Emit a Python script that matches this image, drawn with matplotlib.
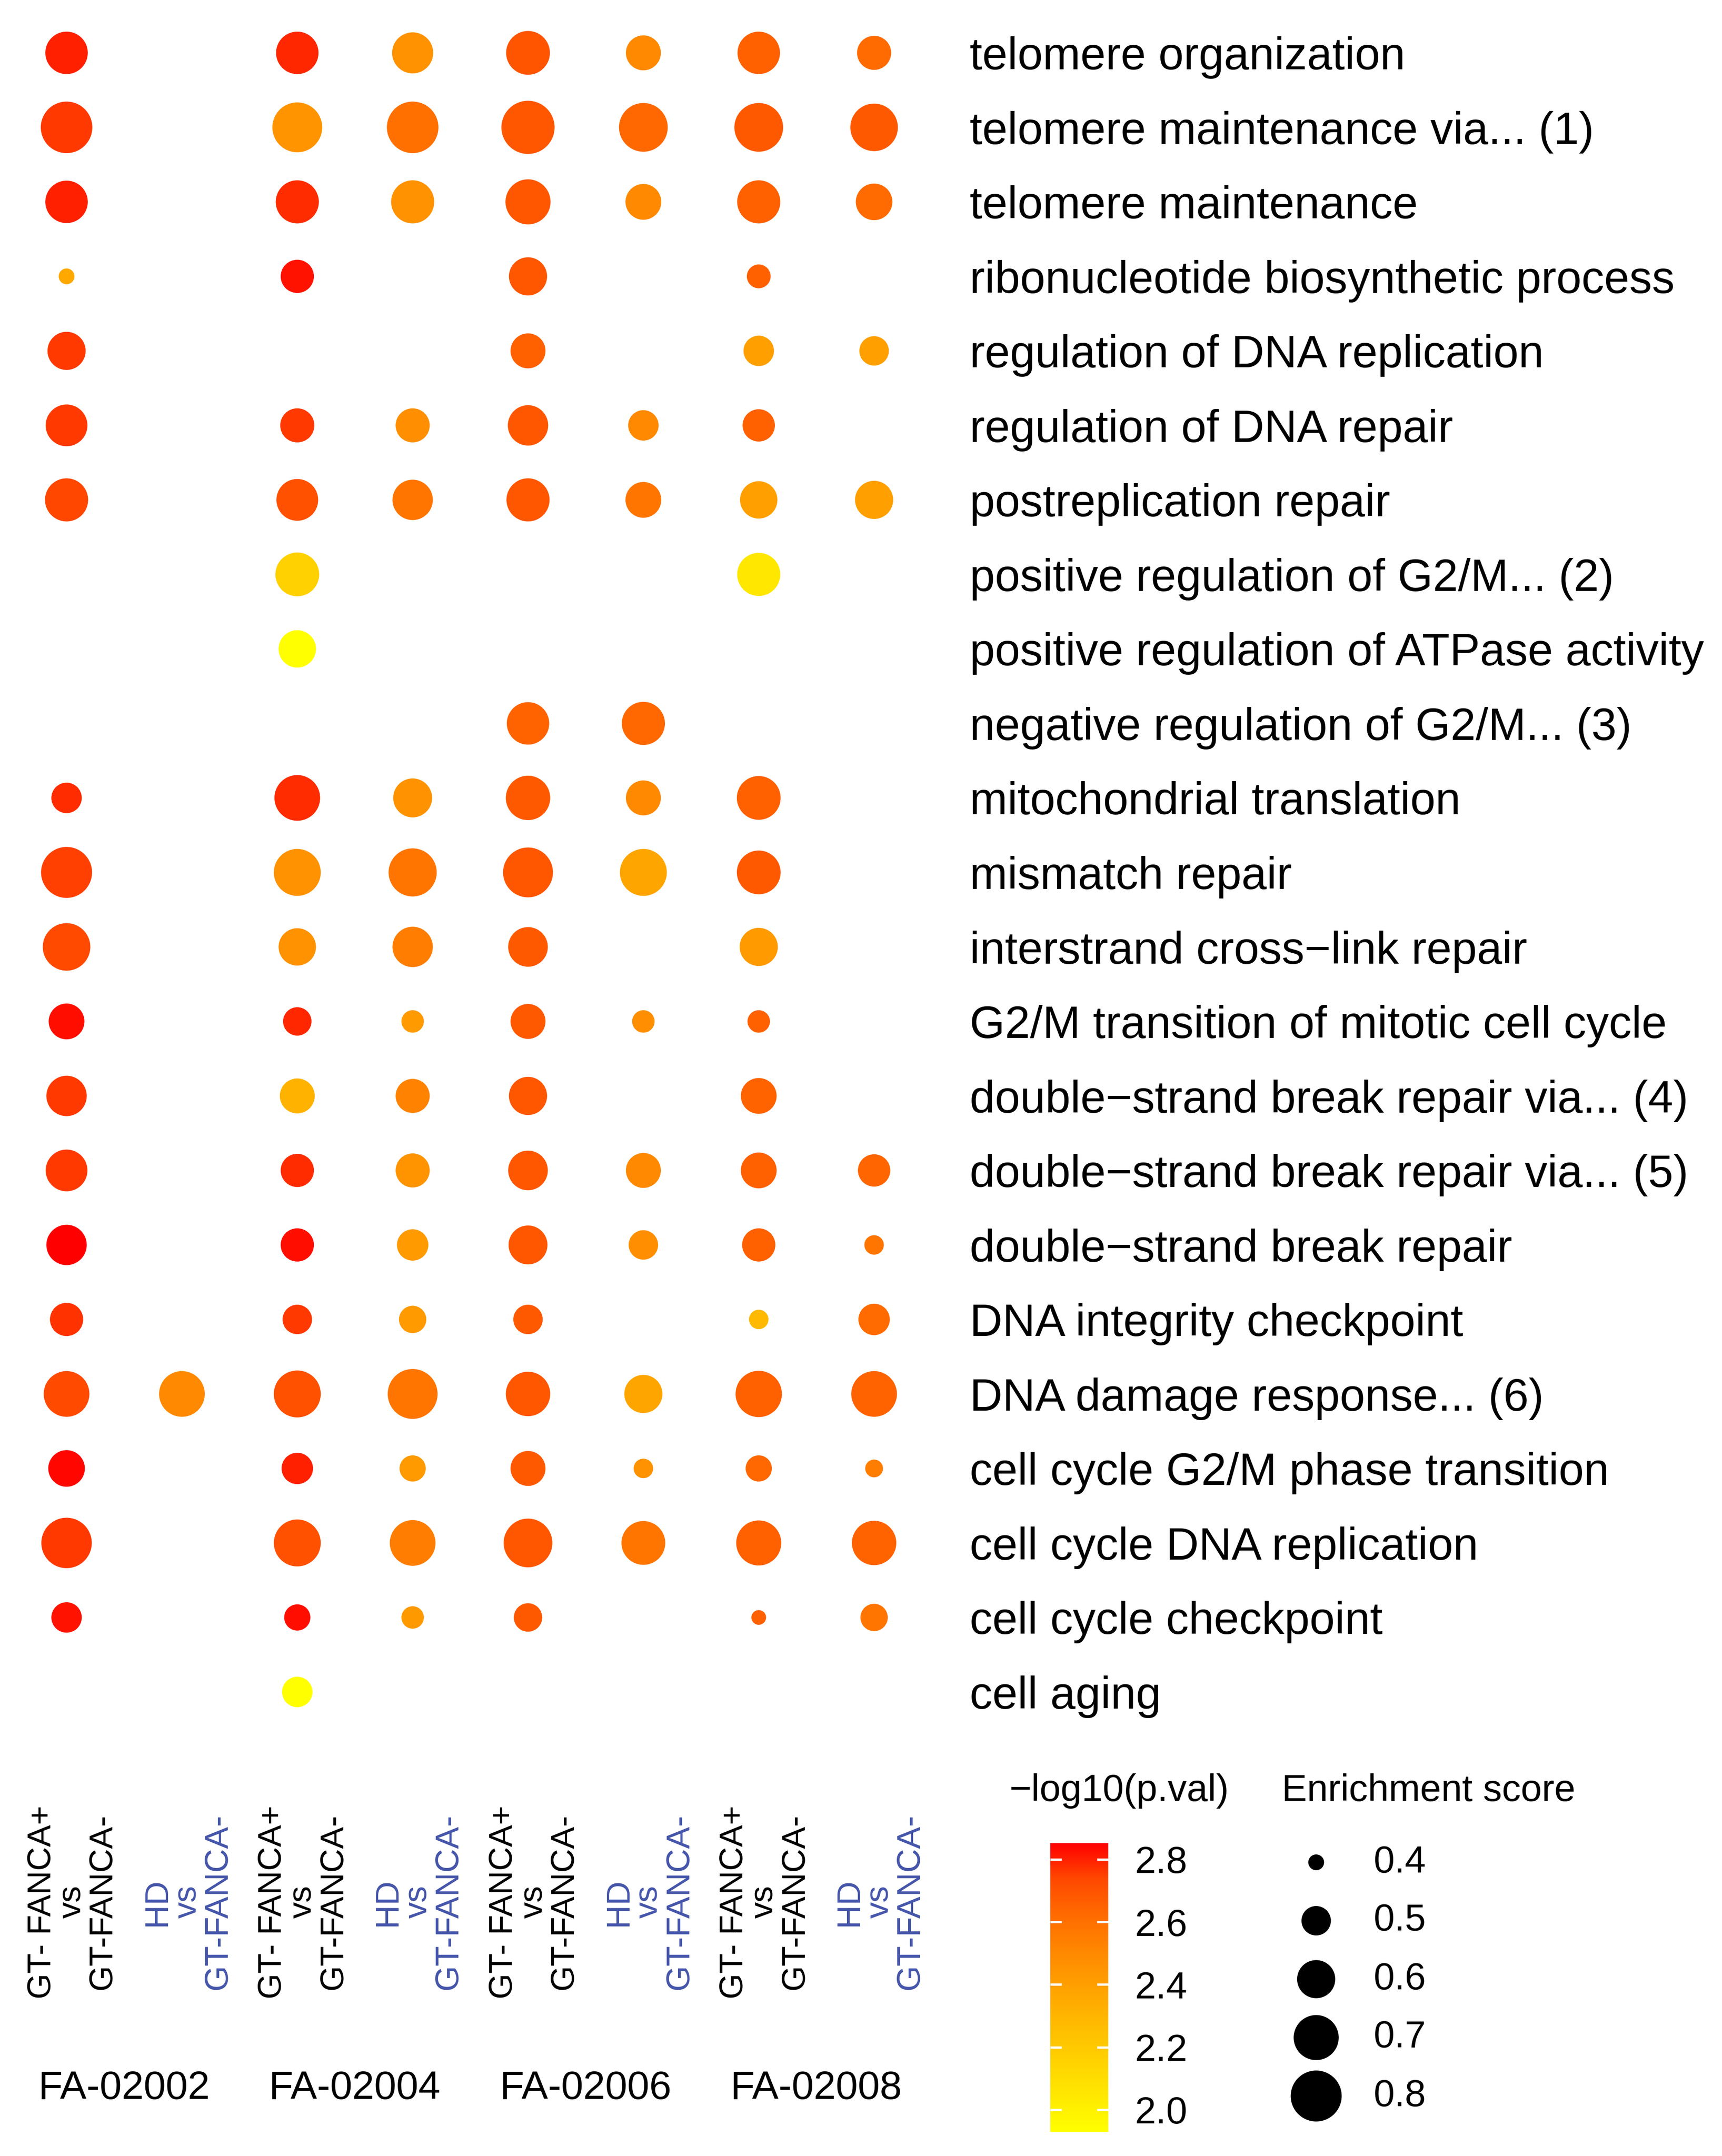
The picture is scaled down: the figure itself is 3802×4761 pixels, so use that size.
import numpy as np
import matplotlib.pyplot as plt
from matplotlib.colors import LinearSegmentedColormap, Normalize
from matplotlib.cm import ScalarMappable
from matplotlib.transforms import blended_transform_factory

plt.rcParams['font.family'] = ['Liberation Sans', 'DejaVu Sans']

# GO terms, top to bottom
terms = [
    'telomere organization',
    'telomere maintenance via... (1)',
    'telomere maintenance',
    'ribonucleotide biosynthetic process',
    'regulation of DNA replication',
    'regulation of DNA repair',
    'postreplication repair',
    'positive regulation of G2/M... (2)',
    'positive regulation of ATPase activity',
    'negative regulation of G2/M... (3)',
    'mitochondrial translation',
    'mismatch repair',
    'interstrand cross\u2212link repair',
    'G2/M transition of mitotic cell cycle',
    'double\u2212strand break repair via... (4)',
    'double\u2212strand break repair via... (5)',
    'double\u2212strand break repair',
    'DNA integrity checkpoint',
    'DNA damage response... (6)',
    'cell cycle G2/M phase transition',
    'cell cycle DNA replication',
    'cell cycle checkpoint',
    'cell aging',
]

patients = ['FA-02002', 'FA-02004', 'FA-02006', 'FA-02008']
comparisons = ['GT- FANCA+\nvs\nGT-FANCA-', 'HD\nvs\nGT-FANCA-']
comparison_colors = ['black', '#4455aa']

n = np.nan
# columns: 02002 (GT+ vs GT-, HD vs GT-), 02004 (...), 02006 (...), 02008 (...)
enrichment = np.array([
    [0.66, n, 0.66, 0.64, 0.68, 0.56, 0.66, 0.55],
    [0.81, n, 0.78, 0.81, 0.84, 0.76, 0.76, 0.74],
    [0.66, n, 0.67, 0.67, 0.70, 0.57, 0.67, 0.58],
    [0.40, n, 0.54, n, 0.60, n, 0.45, n],
    [0.60, n, n, n, 0.56, n, 0.51, 0.50],
    [0.65, n, 0.55, 0.55, 0.63, 0.51, 0.53, n],
    [0.67, n, 0.65, 0.63, 0.67, 0.57, 0.59, 0.60],
    [n, n, 0.68, n, n, n, 0.67, n],
    [n, n, 0.59, n, n, n, n, n],
    [n, n, n, n, 0.66, 0.67, n, n],
    [0.51, n, 0.71, 0.61, 0.69, 0.56, 0.68, n],
    [0.80, n, 0.73, 0.75, 0.78, 0.73, 0.68, n],
    [0.74, n, 0.59, 0.63, 0.62, n, 0.60, n],
    [0.57, n, 0.49, 0.44, 0.56, 0.44, 0.44, n],
    [0.63, n, 0.56, 0.55, 0.60, n, 0.57, n],
    [0.65, n, 0.54, 0.55, 0.62, 0.56, 0.57, 0.53],
    [0.63, n, 0.54, 0.52, 0.61, 0.50, 0.54, 0.42],
    [0.54, n, 0.50, 0.48, 0.50, n, 0.42, 0.52],
    [0.71, 0.71, 0.73, 0.78, 0.69, 0.60, 0.72, 0.71],
    [0.58, n, 0.52, 0.47, 0.56, 0.42, 0.47, 0.41],
    [0.79, n, 0.73, 0.71, 0.76, 0.68, 0.70, 0.69],
    [0.51, n, 0.47, 0.44, 0.49, n, 0.395, 0.48],
    [n, n, 0.51, n, n, n, n, n],
])

neg_log10_p = np.array([
    [2.80, n, 2.79, 2.46, 2.70, 2.50, 2.66, 2.62],
    [2.76, n, 2.45, 2.60, 2.69, 2.63, 2.68, 2.68],
    [2.80, n, 2.78, 2.46, 2.69, 2.50, 2.66, 2.62],
    [2.36, n, 2.82, n, 2.69, n, 2.66, n],
    [2.76, n, n, n, 2.66, n, 2.40, 2.40],
    [2.76, n, 2.76, 2.47, 2.69, 2.50, 2.66, n],
    [2.74, n, 2.71, 2.58, 2.69, 2.58, 2.40, 2.40],
    [n, n, 2.16, n, n, n, 2.05, n],
    [n, n, 1.93, n, n, n, n, n],
    [n, n, n, n, 2.65, 2.63, n, n],
    [2.78, n, 2.78, 2.46, 2.68, 2.50, 2.66, n],
    [2.75, n, 2.46, 2.58, 2.69, 2.37, 2.68, n],
    [2.73, n, 2.46, 2.55, 2.68, n, 2.42, n],
    [2.83, n, 2.79, 2.42, 2.68, 2.48, 2.66, n],
    [2.76, n, 2.31, 2.53, 2.69, n, 2.65, n],
    [2.76, n, 2.78, 2.45, 2.69, 2.50, 2.66, 2.64],
    [2.85, n, 2.83, 2.42, 2.69, 2.47, 2.66, 2.58],
    [2.77, n, 2.76, 2.42, 2.68, n, 2.28, 2.62],
    [2.73, 2.50, 2.71, 2.58, 2.69, 2.37, 2.66, 2.65],
    [2.84, n, 2.80, 2.42, 2.68, 2.46, 2.63, 2.55],
    [2.76, n, 2.71, 2.55, 2.69, 2.58, 2.66, 2.65],
    [2.82, n, 2.83, 2.43, 2.68, n, 2.66, 2.58],
    [n, n, 1.93, n, n, n, n, n],
])

size_breaks = [0.4, 0.5, 0.6, 0.7, 0.8]
color_breaks = [2.0, 2.2, 2.4, 2.6, 2.8]
p_min, p_max = 1.929, 2.852

W, H, DPI = 3803, 4761, 300


def box(x0, y0, x1, y1):
    # pixel box -> figure fraction
    return [x0 / W, 1 - y1 / H, (x1 - x0) / W, (y1 - y0) / H]


def dot_size(es):
    d_px = 7 + 161 * np.sqrt(np.asarray(es) - 0.37)
    return (d_px * 72 / DPI) ** 2


# yellow -> red gradient (Lab-like steps)
cmap = LinearSegmentedColormap.from_list('yr', [
    (0.0, '#ffff00'), (0.125, '#ffe800'), (0.25, '#ffd100'),
    (0.375, '#ffba00'), (0.5, '#ffa100'), (0.625, '#ff8800'),
    (0.75, '#ff6b00'), (0.875, '#ff4900'), (1.0, '#ff0000')])
norm = Normalize(p_min, p_max)

fig = plt.figure(figsize=(W / DPI, H / DPI), dpi=DPI)

ax = fig.add_axes(box(0, 18, 2083, 3835))
rows, cols = np.where(~np.isnan(enrichment))
ax.scatter(cols + 1, rows, s=dot_size(enrichment[rows, cols]),
           c=neg_log10_p[rows, cols], cmap=cmap, norm=norm, linewidths=0)
ax.set_xlim(0.423, 8.601)
ax.set_ylim(22.6, -0.6)
ax.set_frame_on(False)
ax.set_xticks([])
ax.set_yticks(range(len(terms)))
ax.set_yticklabels(terms)
ax.yaxis.tick_right()
ax.tick_params(axis='y', length=0, pad=14, labelsize=24)

# comparison labels and patient names under the dots
trans = blended_transform_factory(ax.transData, fig.transFigure)
for i, p in enumerate(patients):
    for k, lab in enumerate(comparisons):
        x = 2 * i + k + 1
        ax.text(x + 0.05, 1 - 4200 / H, lab, transform=trans, rotation=90,
                ha='center', va='center', multialignment='center',
                fontsize=17.5, linespacing=1.0, color=comparison_colors[k])
    ax.text(2 * i + 1.5, 1 - 4612 / H, p, transform=trans,
            ha='center', va='center', fontsize=21)

# colour legend
fig.text(2229 / W, 1 - 3955 / H, '\u2212log10(p.val)', ha='left', va='center', fontsize=20)
cax = fig.add_axes(box(2319, 4070, 2447, 4708))
cb = fig.colorbar(ScalarMappable(norm=norm, cmap=cmap), cax=cax)
cb.set_ticks(color_breaks)
cb.set_ticklabels([f'{b:.1f}' for b in color_breaks])
cb.outline.set_visible(False)
cax.tick_params(direction='in', length=6, width=1.2, color='white',
                labelsize=20, pad=14, left=True, right=True,
                labelleft=False, labelright=True)

# size legend
fig.text(2830 / W, 1 - 3955 / H, 'Enrichment score', ha='left', va='center', fontsize=20)
sax = fig.add_axes(box(2846, 4048, 2966, 4693))
sax.scatter([0.5] * len(size_breaks), range(len(size_breaks)),
            s=dot_size(size_breaks), color='black', linewidths=0)
for i, b in enumerate(size_breaks):
    sax.text(1.56, i, f'{b:.1f}', ha='left', va='center', fontsize=20)
sax.set_xlim(0, 1)
sax.set_ylim(len(size_breaks) - 0.5, -0.5)
sax.axis('off')

fig.savefig('out.png', dpi=DPI)
